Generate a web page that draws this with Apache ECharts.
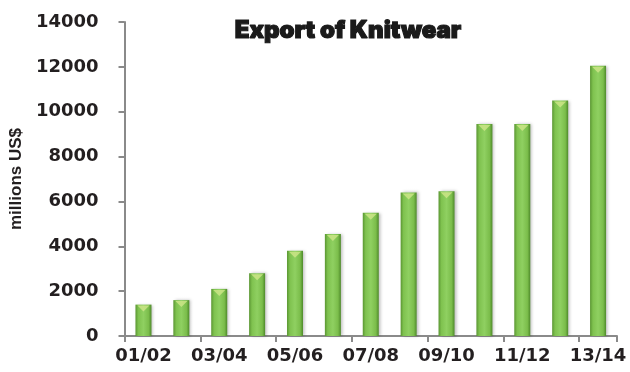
<!DOCTYPE html>
<html>
<head>
<meta charset="utf-8">
<script src="https://cdn.jsdelivr.net/npm/echarts@6/dist/echarts.min.js"></script>
<style>
  html, body { margin: 0; padding: 0; background: #fff; }
  #chart { width: 630px; height: 372px; }
</style>
</head>
<body>
<div id="chart"></div>
<script>
// Fiscal years
const years = ['01/02', '02/03', '03/04', '04/05', '05/06', '06/07', '07/08',
               '08/09', '09/10', '10/11', '11/12', '12/13', '13/14'];
// Knitwear export, millions US$
const exportValues = [1400, 1600, 2100, 2800, 3800, 4550, 5500,
                      6400, 6450, 9450, 9450, 10500, 12050];
// Value axis ticks
const yTicks = [0, 2000, 4000, 6000, 8000, 10000, 12000, 14000];

const labelFont = {
  fontFamily: 'DejaVu Sans',
  fontWeight: 'bold',
  fontSize: 18,
  color: '#231f20'
};

const chart = echarts.init(document.getElementById('chart'), null, { renderer: 'canvas' });

chart.setOption({
  animation: false,
  backgroundColor: '#ffffff',
  title: {
    text: 'Export of Knitwear',
    left: 343,
    textAlign: 'center',
    top: 14,
    textStyle: {
      fontFamily: 'Inter',
      fontWeight: 900,
      fontSize: 24,
      color: '#1a1a1a',
      textBorderColor: '#1a1a1a',
      textBorderWidth: 1.2
    }
  },
  grid: { left: 117, right: 13, top: 22, bottom: 36 },
  xAxis: {
    type: 'category',
    data: years,
    boundaryGap: true,
    axisLine: { lineStyle: { color: '#8a8a8a', width: 2 } },
    axisTick: { show: true, length: 6, lineStyle: { color: '#8a8a8a', width: 2 } },
    axisLabel: Object.assign({ interval: 1, margin: 11 }, labelFont)
  },
  yAxis: {
    type: 'value',
    min: yTicks[0],
    max: yTicks[yTicks.length - 1],
    interval: yTicks[1] - yTicks[0],
    name: 'millions US$',
    nameLocation: 'middle',
    nameRotate: 90,
    nameGap: 99,
    nameTextStyle: {
      fontFamily: 'Liberation Sans',
      fontWeight: 'bold',
      fontSize: 17,
      color: '#231f20'
    },
    axisLine: { show: true, lineStyle: { color: '#8a8a8a', width: 2 } },
    axisTick: { show: true, length: 6, lineStyle: { color: '#8a8a8a', width: 2 } },
    splitLine: { show: false },
    axisLabel: Object.assign({ margin: 26, formatter: v => String(v) }, labelFont)
  },
  series: [
    {
      type: 'bar',
      data: exportValues,
      barWidth: 16,
      itemStyle: {
        color: new echarts.graphic.LinearGradient(0, 0, 1, 0, [
          { offset: 0, color: '#5a9632' },
          { offset: 0.18, color: '#7fc24f' },
          { offset: 0.5, color: '#8fd061' },
          { offset: 0.82, color: '#7bbd4b' },
          { offset: 1, color: '#4e8a2a' }
        ]),
        shadowColor: 'rgba(0,0,0,0.25)',
        shadowBlur: 3,
        shadowOffsetX: 2,
        shadowOffsetY: 0
      },
      z: 2
    },
    {
      // light bevel cap on top of each bar
      type: 'scatter',
      data: exportValues,
      symbol: 'triangle',
      symbolRotate: 180,
      symbolSize: [12, 6],
      symbolOffset: [0, 4],
      itemStyle: { color: '#cfe68a' },
      silent: true,
      z: 3
    }
  ]
});
</script>
</body>
</html>
